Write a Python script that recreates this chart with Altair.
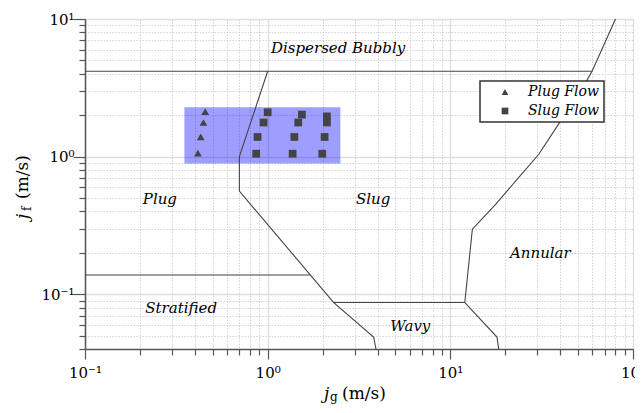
import altair as alt
import pandas as pd

# ---- data ----
# flow-regime boundary lines (jg, jf)
disp_x = [0.1, 59.7]
disp_y = [4.17, 4.17]
plugslug_x = [1.0, 0.70, 0.70, 2.30, 3.80, 3.92]
plugslug_y = [4.17, 1.0, 0.561, 0.087, 0.0488, 0.04]
strat_x = [0.1, 1.71]
strat_y = [0.138, 0.138]
wavy_x = [2.30, 12.0]
wavy_y = [0.087, 0.087]
annular_x = [18.4, 18.0, 12.0, 13.2, 17.7, 23.2, 30.5, 39.2, 49.4, 59.7, 80.2]
annular_y = [0.04, 0.0488, 0.087, 0.297, 0.449, 0.684, 1.04, 1.73, 2.70, 4.17, 10.0]

# experimental points
plug_x = [0.455, 0.445, 0.430, 0.415]
plug_y = [2.12, 1.77, 1.39, 1.06]
slug_x = [1.00, 0.95, 0.88, 0.865, 1.54, 1.47, 1.40, 1.37, 2.11, 2.11, 2.05, 1.99]
slug_y = [2.10, 1.77, 1.39, 1.05, 2.02, 1.77, 1.39, 1.05, 1.96, 1.77, 1.39, 1.05]

# shaded test region
rect_x = [0.35, 2.5]
rect_y = [0.89, 2.28]

# regime labels
region_names = ["Dispersed Bubbly", "Plug", "Slug", "Annular", "Stratified", "Wavy"]
region_x = [2.43, 0.257, 3.78, 31.1, 0.336, 6.04]
region_y = [6.13, 0.491, 0.491, 0.198, 0.0796, 0.0587]

# axis ticks
x_ticks = [m * 10.0 ** e for e in (-1, 0, 1) for m in range(1, 10)] + [100.0]
y_ticks = [m * 10.0 ** e for e, ms in ((-2, range(4, 10)), (-1, range(1, 10)), (0, range(1, 10))) for m in ms] + [10.0]
x_tick_labels = ["10⁻¹", "10⁰", "10¹", "10²"]
y_tick_labels = ["10⁻²", "10⁻¹", "10⁰", "10¹"]

# ---- tables ----
segs = []
for name, xs_, ys_ in [("disp", disp_x, disp_y), ("plugslug", plugslug_x, plugslug_y),
                       ("strat", strat_x, strat_y), ("wavy", wavy_x, wavy_y),
                       ("annular", annular_x, annular_y)]:
    for i, (a, b) in enumerate(zip(xs_, ys_)):
        segs.append({"seg": name, "order": i, "x": a, "y": b})
lines_df = pd.DataFrame(segs)

pts_df = pd.DataFrame(
    [{"x": a, "y": b, "type": "Plug Flow"} for a, b in zip(plug_x, plug_y)]
    + [{"x": a, "y": b, "type": "Slug Flow"} for a, b in zip(slug_x, slug_y)]
)
rect_df = pd.DataFrame({"x": [rect_x[0]], "x2": [rect_x[1]], "y": [rect_y[0]], "y2": [rect_y[1]]})
lab_df = pd.DataFrame({"name": region_names, "x": region_x, "y": region_y})

FONT = "DejaVu Serif"
is_major = "abs(log(datum.value)/LN10 - round(log(datum.value)/LN10)) < 0.001"


def mk_axis(values, labels, offset, tick_major, pad):
    arr = "[" + ",".join("'" + s + "'" for s in labels) + "]"
    return alt.Axis(
        values=values,
        title=None,
        labelExpr=f"({is_major}) ? {arr}[round(log(datum.value)/LN10)+{offset}] : ''",
        labelFont=FONT,
        labelFontSize=15,
        labelColor="black",
        labelFlush=False,
        labelOverlap=False,
        labelPadding=pad,
        tickSize={"condition": {"test": is_major, "value": tick_major}, "value": 6},
        tickColor="#555",
        tickWidth=1.2,
        domainColor="#555",
        domainWidth=1.5,
        grid=True,
        gridColor={"condition": {"test": is_major, "value": "#dedede"}, "value": "#c8c8c8"},
        gridDash={"condition": {"test": is_major, "value": []}, "value": [1.5, 1.5]},
        gridWidth={"condition": {"test": is_major, "value": 1.3}, "value": 0.8},
    )


xs = alt.Scale(type="log", domain=[0.1, 100], nice=False)
ys = alt.Scale(type="log", domain=[0.04, 10], nice=False)
X = alt.X("x:Q", scale=xs, axis=mk_axis(x_ticks, x_tick_labels, 1, 10, 6))
Y = alt.Y("y:Q", scale=ys, axis=mk_axis(y_ticks, y_tick_labels, 2, 12, -1))

rect = alt.Chart(rect_df).mark_rect(color="blue", opacity=0.38).encode(
    x=X, x2="x2:Q", y=Y, y2="y2:Q"
)

lines = alt.Chart(lines_df).mark_line(color="#444", strokeWidth=1.1).encode(
    x=X, y=Y, detail="seg:N", order="order:Q"
)

points = alt.Chart(pts_df).mark_point(filled=True, size=60, opacity=1).encode(
    x=X, y=Y,
    color=alt.value("#444"),
    shape=alt.Shape(
        "type:N",
        scale=alt.Scale(domain=["Plug Flow", "Slug Flow"], range=["triangle-up", "square"]),
        legend=alt.Legend(title=None, orient="none", legendX=395, legendY=62),
    ),
)

labels = alt.Chart(lab_df).mark_text(
    font=FONT, fontStyle="italic", fontSize=15, color="black"
).encode(x=X, y=Y, text="name:N")

one = pd.DataFrame({"d": [0]})


def title_text(txt, x, y, size, italic=False, angle=0):
    kw = dict(text=txt, font=FONT, fontSize=size, color="black", align="left", baseline="alphabetic")
    if italic:
        kw["fontStyle"] = "italic"
    if angle:
        kw["angle"] = angle
    return alt.Chart(one).mark_text(**kw).encode(x=alt.value(x), y=alt.value(y))


titles = [
    title_text("j", 239, 380, 17, italic=True),
    title_text("g", 245, 382, 12),
    title_text("(m/s)", 257, 380, 17),
    title_text("j", -57, 200, 17, italic=True, angle=270),
    title_text("f", -54, 192, 12, angle=270),
    title_text("(m/s)", -57, 180, 17, angle=270),
]

chart = alt.layer(rect, lines, points, labels, *titles).properties(
    width=548,
    height=330,
    autosize=alt.AutoSizeParams(type="none"),
    padding={"left": 77, "top": 11, "right": 2, "bottom": 56},
).configure_view(
    stroke="#dcdcdc", strokeWidth=1
).configure_legend(
    labelFont=FONT,
    labelFontStyle="italic",
    labelFontSize=14,
    labelColor="black",
    padding=4,
    symbolOffset=14,
    labelOffset=16,
    rowPadding=5,
    strokeColor="#333",
    strokeWidth=1.5,
    fillColor="white",
    symbolSize=45,
    symbolFillColor="#444",
    symbolStrokeColor="#444",
)

chart.save("out.html", embed_options={"renderer": "svg", "actions": False})
